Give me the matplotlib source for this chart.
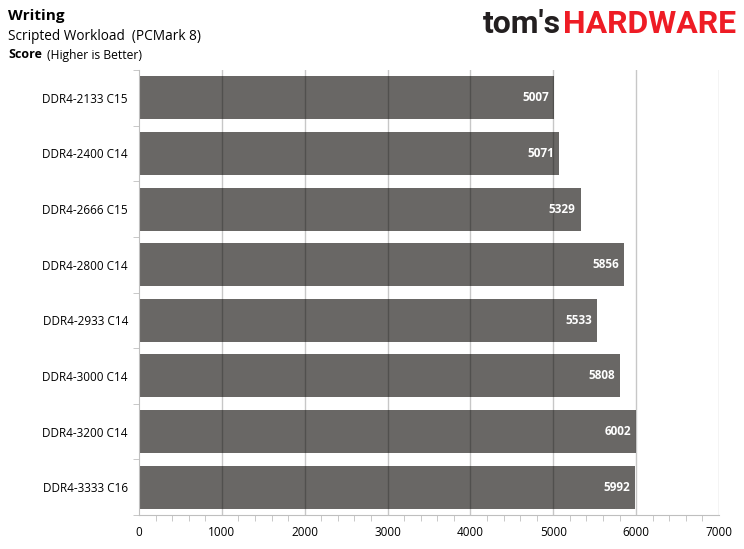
import matplotlib
matplotlib.use("Agg")
import matplotlib.pyplot as plt
import numpy as np

categories = ["DDR4-2133 C15", "DDR4-2400 C14", "DDR4-2666 C15", "DDR4-2800 C14",
              "DDR4-2933 C14", "DDR4-3000 C14", "DDR4-3200 C14", "DDR4-3333 C16"]
values = [5007, 5071, 5329, 5856, 5533, 5808, 6002, 5992]
xticks = [0, 1000, 2000, 3000, 4000, 5000, 6000, 7000]

plt.rcParams['font.family'] = ['Open Sans', 'DejaVu Sans']

fig = plt.figure(figsize=(7.44, 5.49), dpi=100)
ax = fig.add_axes([139/744, 1-515/549, (719-139)/744, (515-70)/549])

n = len(categories)
y = np.arange(n)
ax.barh(y, values, height=0.775, color='#696765', zorder=1)
ax.set_ylim(n - 0.5, -0.5)
ax.set_xlim(0, 7000)

for xv in xticks[1:]:
    ax.axvline(xv, color='black', alpha=0.22, lw=1, zorder=2)

for yi, v in zip(y, values):
    ax.text(v - 60, yi, f"{v}", ha='right', va='center', color='white',
            fontsize=8.5, fontweight='bold', zorder=3)

ax.set_xticks(xticks)
ax.set_xticklabels([str(t) for t in xticks], fontsize=8.5)
ax.set_xticks(np.arange(0, 7001, 200), minor=True)
ax.tick_params(axis='x', which='both', length=4, color='#bfbfbf', direction='out', pad=8)
ax.tick_params(axis='x', which='major', length=0)

ax.set_yticks(y)
ax.set_yticklabels(categories, fontsize=8.5)
ax.set_yticks(np.arange(-0.5, n, 1.0), minor=True)
ax.tick_params(axis='y', which='major', length=0, pad=8)
ax.tick_params(axis='y', which='minor', length=4, color='#bfbfbf')

for s in ['top', 'right']:
    ax.spines[s].set_visible(False)
for s in ['left', 'bottom']:
    ax.spines[s].set_color('#bfbfbf')

fig.text(8/744, 1-16/549, "Writing", fontsize=11, fontweight='bold', va='center', ha='left')
fig.text(8/744, 1-36/549, "Scripted Workload  (PCMark 8)", fontsize=9.8, va='center', ha='left')
fig.text(8/744, 1-55/549, "Score", fontsize=9, fontweight='bold', va='center', ha='left')
fig.text(47/744, 1-55/549, "(Higher is Better)", fontsize=8.7, va='center', ha='left')

fig.text(561/744, 1-24/549, "tom's", fontsize=23, fontweight='bold', color='#231f20',
         va='center', ha='right', family=['Roboto', 'DejaVu Sans'])
fig.text(563/744, 1-24/549, "HARDWARE", fontsize=23, fontweight='bold', color='#ee1c25',
         va='center', ha='left', family=['Roboto', 'DejaVu Sans'])

fig.savefig("out.png", dpi=100)
